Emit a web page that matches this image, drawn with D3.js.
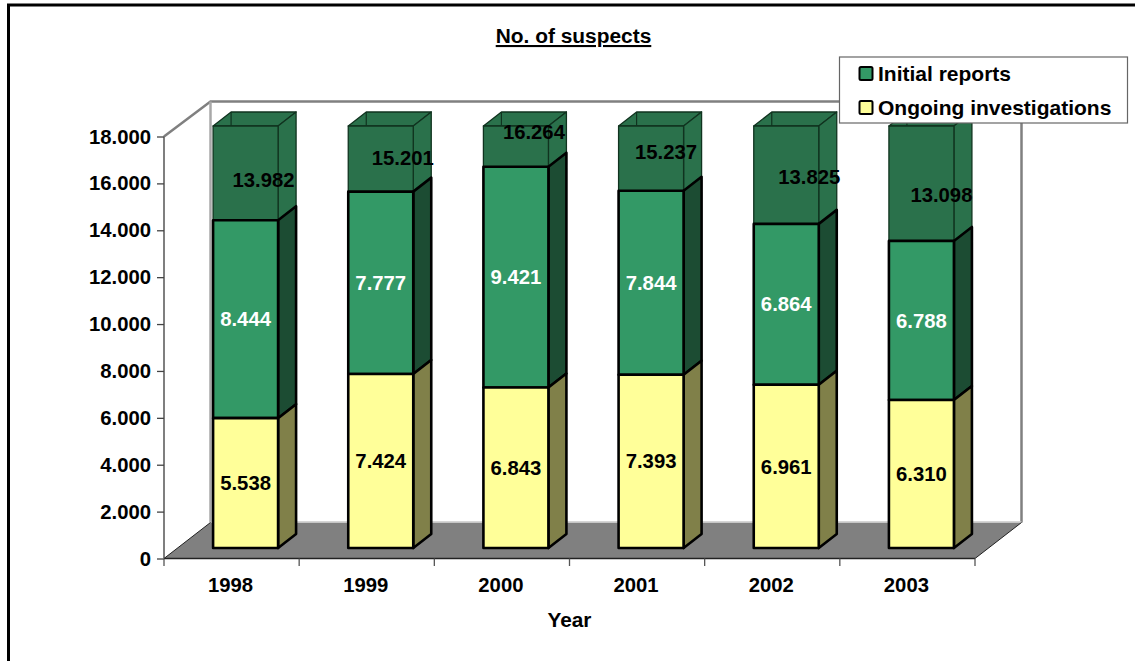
<!DOCTYPE html>
<html><head><meta charset="utf-8"><style>
html,body{margin:0;padding:0;background:#fff}
svg{display:block}
text{font-family:"Liberation Sans",Arial,sans-serif;font-weight:bold;fill:#000}
</style></head><body>
<svg id="c" width="1135" height="661"></svg>
<script src="https://cdn.jsdelivr.net/npm/d3@7/dist/d3.min.js"></script>
<script>
const years = ["1998","1999","2000","2001","2002","2003"];
const ongoing = [5538,7424,6843,7393,6961,6310];
const initial = [8444,7777,9421,7844,6864,6788];
const thirdSeries = [13982,15201,16264,15237,13825,13098];
const yTicks = [0,2000,4000,6000,8000,10000,12000,14000,16000,18000];
const legendLabels = ["Initial reports","Ongoing investigations"];
// hand-placed nudges of the clipped top labels in the original chart
const topLabelDx = [18,22,18,15,23,20];
const topLabelDy = [6.5,-1,-14,-6,2,11];

const svg = d3.select("#c");
const fmt = v => v===0 ? "0" : d3.format(",")(v).replace(/,/g,".");
const ox=164, oy=136.5, depth={x:46.5,y:-35};
const x = d3.scaleBand().domain(years).range([164,975]);
const y = d3.scaleLinear().domain([0,18000]).range([558.5,136.5]);
const barW = 65, bd={x:18,y:-14}, base=-10.5;   // bar offsets into the 3D floor
const FS = 20.3;
const barX = d => x(d)+x.bandwidth()/2-barW/2+14;
const by = v => y(Math.min(v,18000))+base;

// chart frame
svg.append("path").attr("d","M8.5,661V5H1135").attr("fill","none").attr("stroke","#000").attr("stroke-width",3);

// walls + floor
const backL=ox+depth.x, backR=975+depth.x, backT=oy+depth.y, backB=558.5+depth.y-1;
svg.append("path").attr("d",`M164,558.5L${backL},${backB}H${backR}L975,558.5Z`).attr("fill","#808080");
svg.append("path").attr("d",`M164,${oy}L${backL},${backT}H${backR}V${backB}`).attr("fill","none").attr("stroke","#808080").attr("stroke-width",2.5);
svg.append("line").attr("x1",backL).attr("x2",backL).attr("y1",backT).attr("y2",backB).attr("stroke","#a8a8a8").attr("stroke-width",2.5);
svg.append("line").attr("x1",backL).attr("x2",backR).attr("y1",backB-0.5).attr("y2",backB-0.5).attr("stroke","#c8c8c8").attr("stroke-width",1.5);
svg.append("path").attr("d",`M164,558.5L${backL},${backB}M975,558.5L${backR},${backB}`).attr("fill","none").attr("stroke","#222").attr("stroke-width",1);

// axes
const yAxis = d3.axisLeft(y).tickValues(yTicks).tickFormat(fmt).tickSize(7).tickPadding(6);
const gy = svg.append("g").attr("transform",`translate(${ox},0)`).call(yAxis);
gy.selectAll("text").attr("font-size",FS).style("font-family",'"Liberation Sans"').style("font-weight","bold");
gy.selectAll("line").attr("stroke","#444").attr("stroke-width",1.3);
gy.select(".domain").attr("stroke","#555").attr("stroke-width",1.5).attr("d",`M0,${oy}V558.5`);
const xTickPos = d3.range(0,years.length+1).map(i=>164+i*x.bandwidth());
svg.append("line").attr("x1",164).attr("x2",975).attr("y1",558.5).attr("y2",558.5).attr("stroke","#222").attr("stroke-width",1.5);
svg.selectAll(".xt").data(xTickPos).join("line").attr("x1",d=>d).attr("x2",d=>d).attr("y1",558.5).attr("y2",566).attr("stroke","#555").attr("stroke-width",1.3);
svg.selectAll(".xl").data(years).join("text").attr("x",d=>x(d)+x.bandwidth()/2-1).attr("y",592).attr("text-anchor","middle").attr("font-size",FS).text(d=>d);
svg.append("text").attr("x",569.5).attr("y",627).attr("text-anchor","middle").attr("font-size",20.8).text("Year");

// bars
function box(i, v0, v1, col, lw, stroke, topCap){
  const xl=barX(years[i]), xr=xl+barW, y0=by(v0), y1=by(v1);
  const g=svg.append("g").attr("stroke",stroke).attr("stroke-width",lw).attr("stroke-linejoin","round");
  if(topCap) g.append("path").attr("d",`M${xl},${y1}l${bd.x},${bd.y}H${xr+bd.x}L${xr},${y1}Z`).attr("fill",col.top);
  g.append("path").attr("d",`M${xr},${y1}l${bd.x},${bd.y}V${y0+bd.y}L${xr},${y0}Z`).attr("fill",col.side);
  g.append("rect").attr("x",xl).attr("y",y1).attr("width",barW).attr("height",y0-y1).attr("fill",col.front);
}
const cY={front:"#FFFF99",side:"#808049",top:"#FFFF99"};
const cG={front:"#339966",side:"#1C4C33",top:"#339966"};
const cD={front:"#2A714B",side:"#2A714B",top:"#2A714B"};
years.forEach((d,i)=>{
  const a=ongoing[i], b=a+initial[i], c=b+thirdSeries[i];
  box(i,b,c,cD,1.3,"#10331f",true);
  // rear vertical edge visible through the clipped top
  svg.append("line").attr("x1",barX(d)+bd.x).attr("x2",barX(d)+bd.x).attr("y1",by(c)+bd.y).attr("y2",by(c)).attr("stroke","#10331f").attr("stroke-width",1.2);
  box(i,a,b,cG,2.6,"#000",false);
  box(i,0,a,cY,2.6,"#000",false);
});

// value labels
years.forEach((d,i)=>{
  const cx=barX(d)+barW/2, a=ongoing[i], b=a+initial[i];
  const lbl=(tx,ty,t,fill)=>svg.append("text").attr("x",tx).attr("y",ty).attr("dy","0.35em").attr("text-anchor","middle").attr("font-size",FS).style("fill",fill).text(t);
  lbl(cx,(by(0)+by(a))/2,fmt(a),"#000");
  lbl(cx,(by(a)+by(b))/2,fmt(initial[i]),"#fff");
  lbl(cx+topLabelDx[i],(by(b)+by(18000))/2+topLabelDy[i],fmt(thirdSeries[i]),"#000");
});

// title
svg.append("text").attr("x",573.5).attr("y",43).attr("text-anchor","middle").attr("font-size",20.9).attr("text-decoration","underline").text("No. of suspects");

// legend
const lg=svg.append("g");
lg.append("rect").attr("x",839.5).attr("y",57).attr("width",288).attr("height",66).attr("fill","#fff").attr("stroke","#666").attr("stroke-width",1.2);
const legendColors=["#339966","#FFFF99"];
legendLabels.forEach((t,i)=>{
  const ly=74+i*34;
  lg.append("rect").attr("x",859.5).attr("y",ly-7).attr("width",13).attr("height",13).attr("rx",1.5).attr("fill",legendColors[i]).attr("stroke","#000").attr("stroke-width",2);
  lg.append("text").attr("x",878).attr("y",ly).attr("dy","0.35em").attr("font-size",21).text(t);
});
</script>
</body></html>
